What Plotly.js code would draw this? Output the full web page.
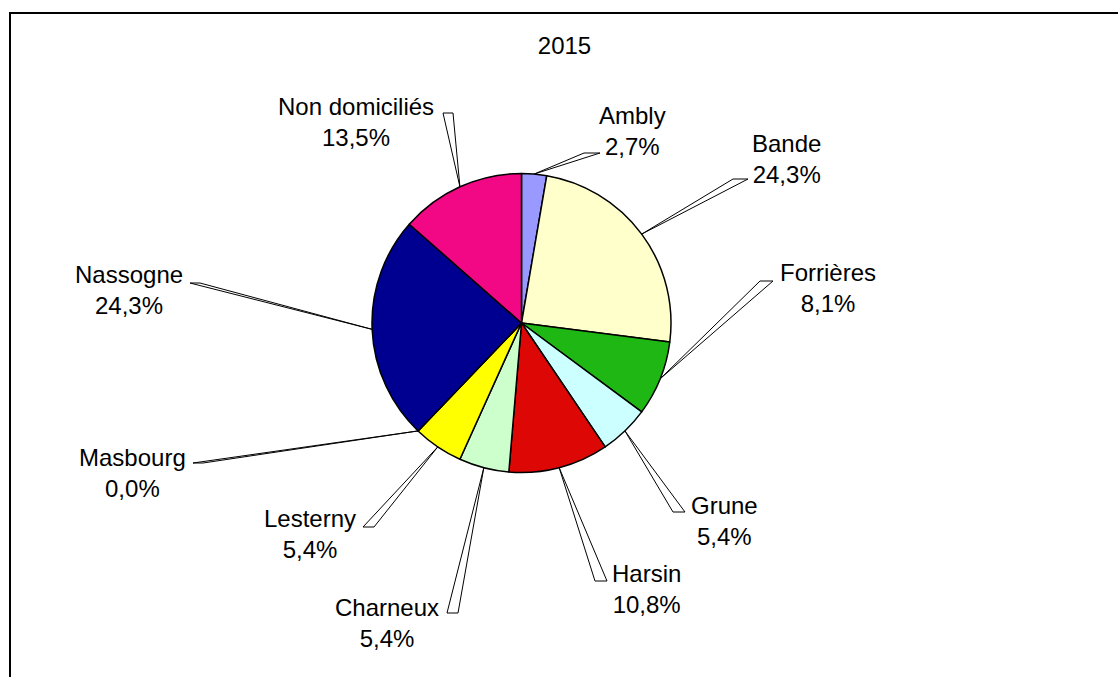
<!DOCTYPE html>
<html><head><meta charset="utf-8">
<script src="https://cdn.plot.ly/plotly-3.0.1.min.js"></script>
<style>html,body{margin:0;padding:0;background:#fff;overflow:hidden}</style>
</head><body><div id="chart" style="width:1118px;height:677px"></div>
<script>
// ---- data ----
const chartTitle = "2015";
const categories = ["Ambly","Bande","Forrières","Grune","Harsin","Charneux","Lesterny","Masbourg","Nassogne","Non domiciliés"];
const counts = [1, 9, 3, 2, 4, 2, 2, 0, 9, 5];
const sliceColors = ["#9999FF","#FFFFCC","#1FB714","#CCFFFF","#DD0806","#CCFFCC","#FFFF00","#FF9900","#000090","#F20884"];

// ---- style / layout (pixels) ----
const W = 1118, H = 677;
const pieCenter = [521.5, 323], pieRadius = 149.5;
const labelPos = [[632,130.5],[786,158.5],[828,288],[724,520.5],[646,589],[387,622.5],[310,533.5],[132,472.5],[129,290.5],[356,122]];
const leaderBase = [[584,600,153],[733,748,179],[760,773,281],[673,685,512],[595,607,581],[447,458,613],[363,374,527],[193,203,463],[190,200,283],[443,453,113]];
const FONT = '"Liberation Sans", Arial, sans-serif';
const FSIZE = 24;

const px = x => x / W, py = y => 1 - y / H;
const total = counts.reduce((a, b) => a + b, 0);
const pctText = counts.map(v => (v / total * 100).toFixed(1).replace('.', ',') + '%');

const annotations = categories.map((c, i) => ({
  xref: 'paper', yref: 'paper', x: px(labelPos[i][0]), y: py(labelPos[i][1]),
  xanchor: 'center', yanchor: 'middle', showarrow: false,
  text: c + '<br>' + pctText[i], font: {family: FONT, size: FSIZE, color: '#000'}
}));

const shapes = [{
  type: 'rect', xref: 'paper', yref: 'paper', x0: px(10), x1: 1.05, y0: -0.05, y1: py(13),
  line: {color: '#000', width: 2}, fillcolor: 'rgba(0,0,0,0)', layer: 'below'
}];
let cum = 0;
counts.forEach((v, i) => {
  const th = 2 * Math.PI * (cum + v / 2) / total;
  cum += v;
  const ax = pieCenter[0] + pieRadius * Math.sin(th);
  const ay = pieCenter[1] - pieRadius * Math.cos(th);
  const b = leaderBase[i];
  shapes.push({
    type: 'path', xref: 'paper', yref: 'paper', layer: 'above',
    path: `M ${px(ax)} ${py(ay)} L ${px(b[0])} ${py(b[2])} L ${px(b[1])} ${py(b[2])} Z`,
    line: {color: '#000', width: 1}, fillcolor: '#fff'
  });
});

const trace = {
  type: 'pie', labels: categories, values: counts, sort: false, direction: 'clockwise', rotation: 0,
  marker: {colors: sliceColors, line: {color: '#000', width: 1.5}},
  textinfo: 'none', hoverinfo: 'none', showlegend: false,
  domain: {x: [px(pieCenter[0] - pieRadius), px(pieCenter[0] + pieRadius)],
           y: [py(pieCenter[1] + pieRadius), py(pieCenter[1] - pieRadius)]}
};

const layout = {
  width: W, height: H, margin: {l: 0, r: 0, t: 0, b: 0},
  paper_bgcolor: '#fff', plot_bgcolor: '#fff', showlegend: false,
  title: {text: chartTitle, x: px(564.5), y: py(46), xref: 'paper', yref: 'paper',
          xanchor: 'center', yanchor: 'middle', font: {family: FONT, size: FSIZE, color: '#000'}},
  annotations: annotations, shapes: shapes
};
Plotly.newPlot('chart', [trace], layout, {staticPlot: true, displayModeBar: false});
</script></body></html>
